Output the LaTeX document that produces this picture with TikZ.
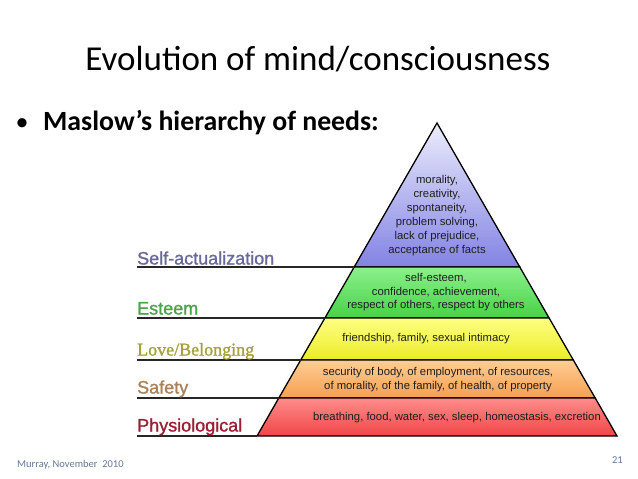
\documentclass[tikz,border=0pt]{standalone}
\usepackage{fontspec}
\setmainfont{Carlito}
\newfontfamily\lsans{Liberation Sans}
\newfontfamily\lsanslbl[FakeBold=1.3]{Liberation Sans}
\newfontfamily\lserif[FakeBold=1.3]{Liberation Serif}
\definecolor{saC}{RGB}{105,105,155}
\definecolor{esC}{RGB}{75,165,75}
\definecolor{lbC}{RGB}{165,160,65}
\definecolor{sfC}{RGB}{170,130,90}
\definecolor{phC}{RGB}{155,30,50}
\definecolor{footC}{RGB}{100,120,150}
\definecolor{ptext}{RGB}{30,30,30}
\begin{document}
\begin{tikzpicture}[x=1pt,y=-1pt,
  tier/.style={draw=black,line width=1.3pt,line join=miter},
  rule/.style={draw=black!85,line width=1.3pt},
  lbl/.style={inner sep=0pt,anchor=base west,font=\lsanslbl\fontsize{18}{20}\selectfont},
  ptxt/.style={inner sep=0pt,align=center,text=ptext},
  foot/.style={inner sep=0pt,anchor=base,text=footC,font=\fontsize{10.5}{12}\selectfont}]
\useasboundingbox (0,0) rectangle (638,479);
% title
\node[inner sep=0pt,anchor=base,font=\fontsize{35}{40}\selectfont] (title) at (318,70.7) {Evolution of mind/consciousness};
\node[inner sep=0pt,anchor=base,font=\fontsize{26}{28}\selectfont] (bullet) at (22,130) {•};
\node[inner sep=0pt,anchor=base west,font=\bfseries\fontsize{27.8}{30}\selectfont] (bul) at (43,130) {Maslow’s hierarchy of needs:};
% pyramid corners
\coordinate (apex) at (437,123);
\coordinate (L1) at (354.2,267); \coordinate (R1) at (519.8,267);
\coordinate (L2) at (324.9,318); \coordinate (R2) at (549.1,318);
\coordinate (L3) at (300.7,360); \coordinate (R3) at (573.3,360);
\coordinate (L4) at (278.8,398); \coordinate (R4) at (595.2,398);
\coordinate (L5) at (257,436);   \coordinate (R5) at (617,436);
% tiers
\path[tier,top color={rgb,255:red,236;green,236;blue,252},bottom color={rgb,255:red,130;green,130;blue,228}] (apex) -- (R1) -- (L1) -- cycle;
\path[tier,top color={rgb,255:red,140;green,240;blue,140},bottom color={rgb,255:red,70;green,210;blue,70}] (L1) -- (R1) -- (R2) -- (L2) -- cycle;
\path[tier,top color={rgb,255:red,255;green,255;blue,130},bottom color={rgb,255:red,235;green,235;blue,40}] (L2) -- (R2) -- (R3) -- (L3) -- cycle;
\path[tier,top color={rgb,255:red,255;green,205;blue,150},bottom color={rgb,255:red,245;green,160;blue,80}] (L3) -- (R3) -- (R4) -- (L4) -- cycle;
\path[tier,top color={rgb,255:red,255;green,140;blue,140},bottom color={rgb,255:red,240;green,70;blue,70}] (L4) -- (R4) -- (R5) -- (L5) -- cycle;
% label rules
\coordinate (s1) at (137,267); \coordinate (s2) at (137,318);
\coordinate (s3) at (137,360); \coordinate (s4) at (137,398);
\coordinate (s5) at (137,436);
\draw[rule] (s1) -- (L1);
\draw[rule] (s2) -- (L2);
\draw[rule] (s3) -- (L3);
\draw[rule] (s4) -- (L4);
\draw[rule] (s5) -- (L5);
% labels
\node[lbl,text=saC] (lsa) at (137,264.5) {Self-actualization};
\node[lbl,text=esC] (les) at (137,314.5) {Esteem};
\node[lbl,text=lbC,font=\lserif\fontsize{18}{20}\selectfont] (llb) at (137,355.5) {Love/Belonging};
\node[lbl,text=sfC] (lsf) at (137,393.5) {Safety};
\node[lbl,text=phC] (lph) at (137,431.5) {Physiological};
% tier texts
\node[ptxt,font=\lsans\fontsize{11.3}{14}\selectfont] (tsa) at (437,216) {morality,\\creativity,\\spontaneity,\\problem solving,\\lack of prejudice,\\acceptance of facts};
\node[ptxt,font=\lsans\fontsize{11.3}{13.5}\selectfont] (tes) at (436,292.5) {self-esteem,\\confidence, achievement,\\respect of others, respect by others};
\node[ptxt,font=\lsans\fontsize{11.3}{14}\selectfont] (tlb) at (426,339) {friendship, family, sexual intimacy};
\node[ptxt,font=\lsans\fontsize{11.3}{14}\selectfont] (tsf) at (438,380) {security of body, of employment, of resources,\\of morality, of the family, of health, of property};
\node[ptxt,font=\lsans\fontsize{11.3}{14}\selectfont] (tph) at (457,418) {breathing, food, water, sex, sleep, homeostasis, excretion};
% footer
\node[foot,anchor=base west] (fl) at (17,467) {Murray, November\ \ 2010};
\node[foot,anchor=base east] (fr) at (623,463) {21};
\end{tikzpicture}
\end{document}
